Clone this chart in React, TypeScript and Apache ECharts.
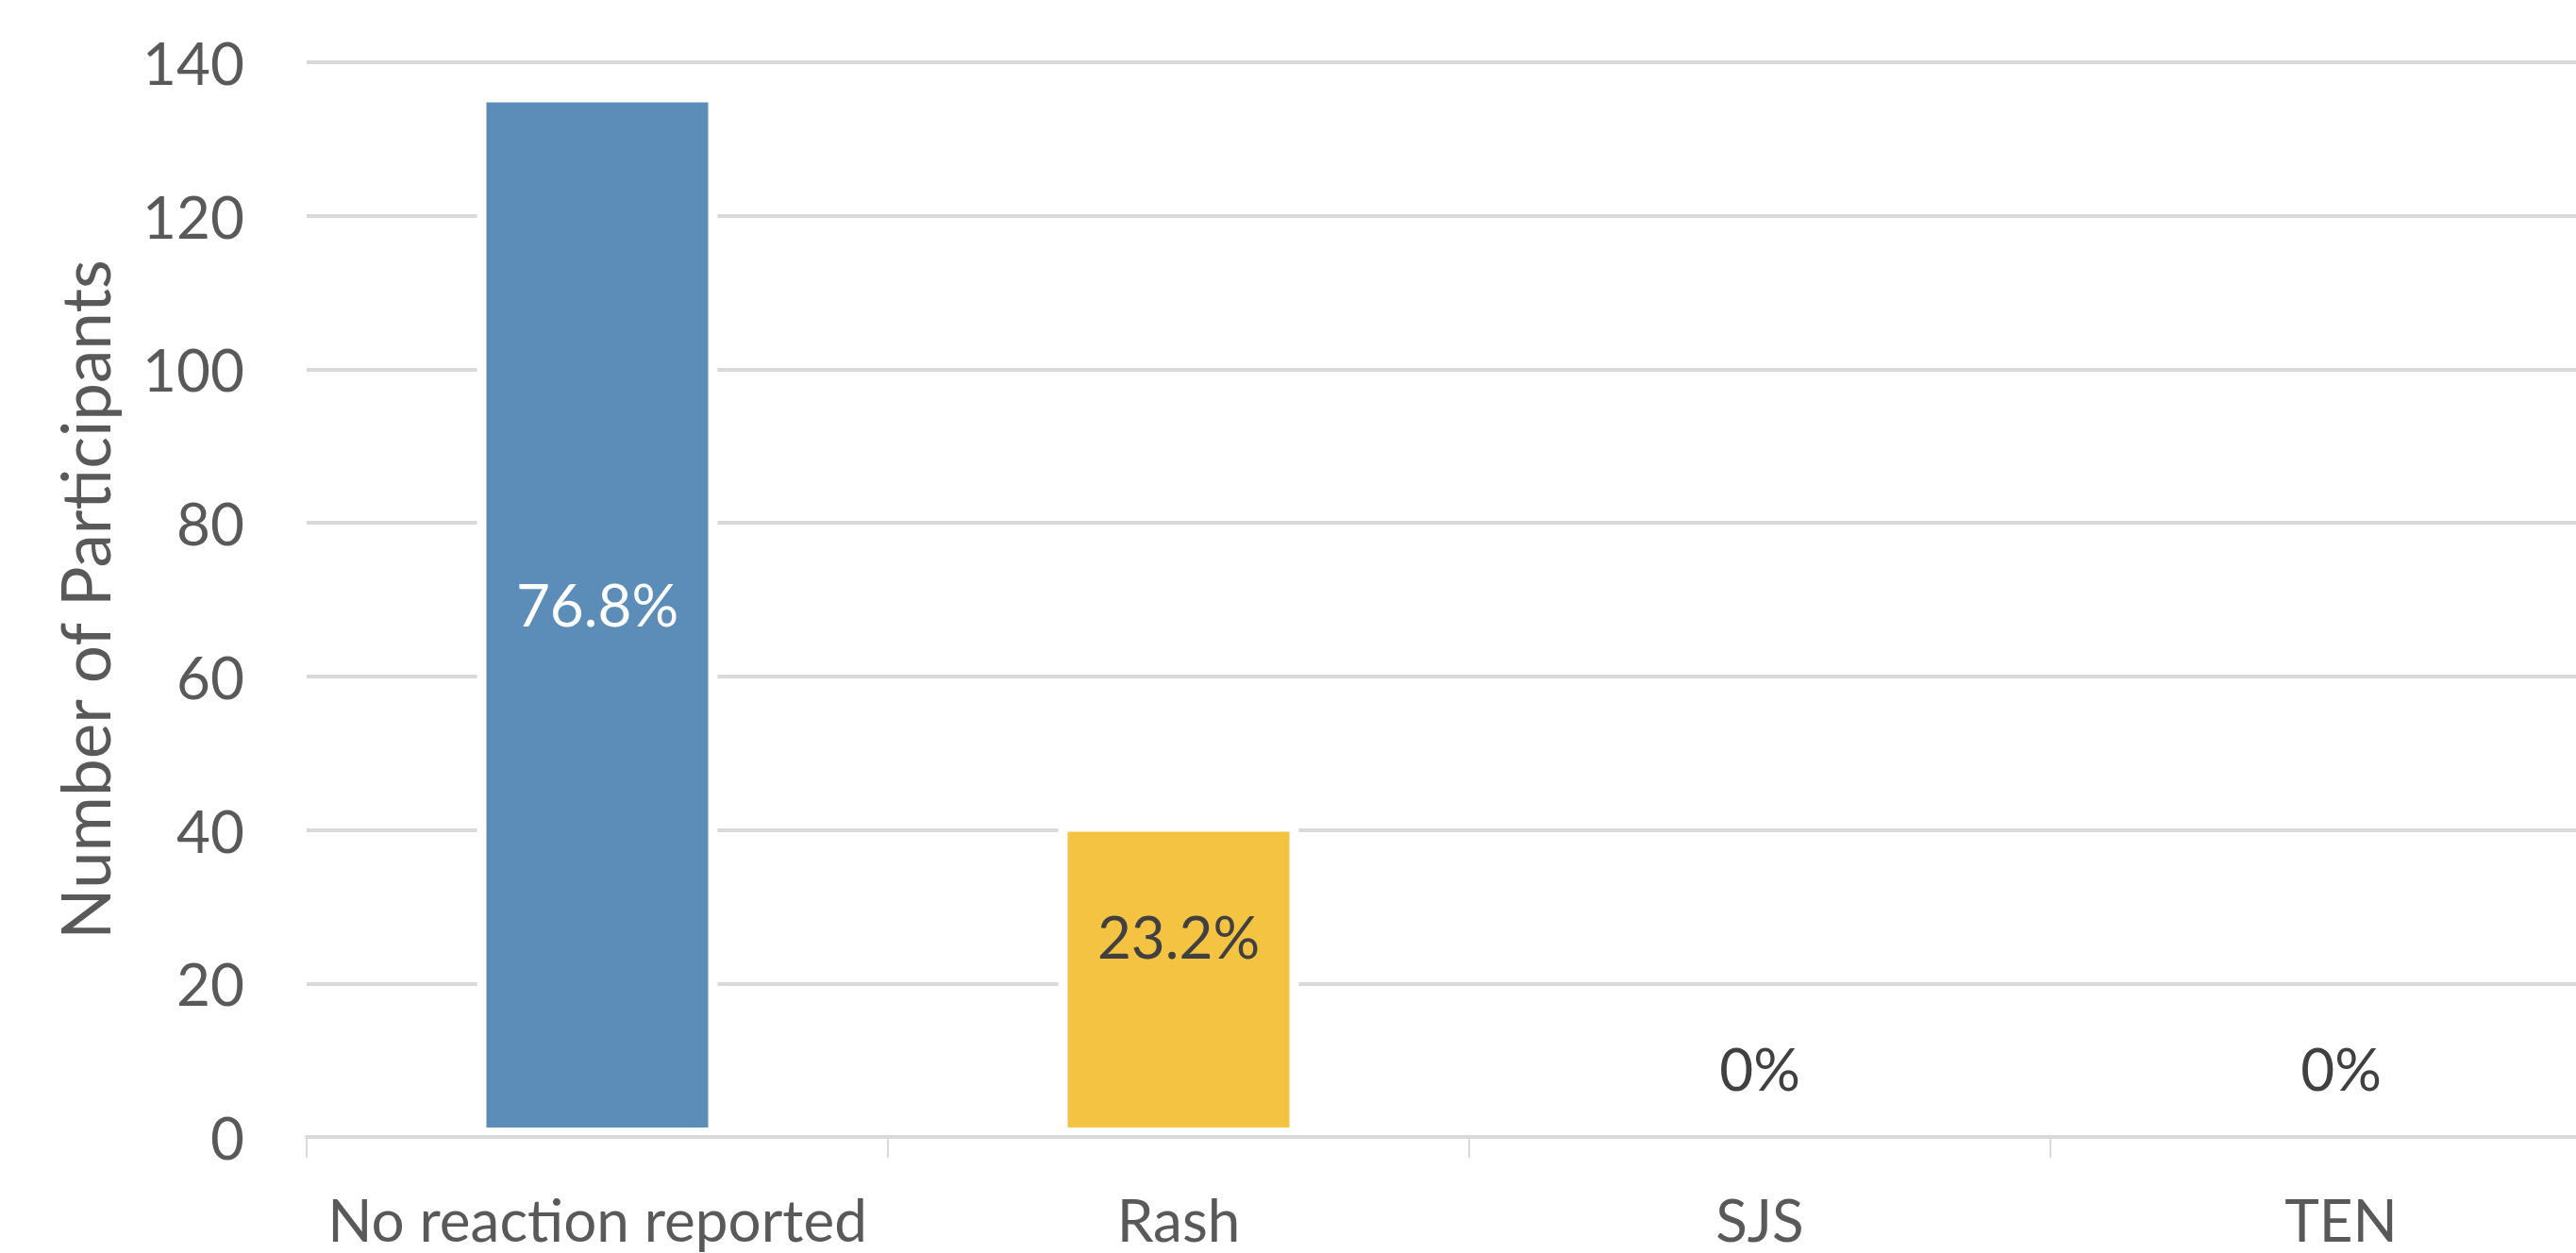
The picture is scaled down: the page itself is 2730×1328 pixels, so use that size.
import React, { useEffect, useRef } from "react";
import * as echarts from "echarts";

const categories = ["No reaction reported", "Rash", "SJS", "TEN"];
const participants = [136, 41, 0, 0];
const percentLabels = ["76.8%", "23.2%", "0%", "0%"];
const barColors = ["#5B8DB8", "#F5C342", "#5B8DB8", "#5B8DB8"];
const labelColors = ["#FFFFFF", "#404040", "#404040", "#404040"];
const labelOffsets = [-12, -46, -73, -73];
const yTicks = { min: 0, max: 140, interval: 20 };

const FONT = "Lato, 'Open Sans', sans-serif";

export default function App() {
  const ref = useRef<HTMLDivElement>(null);
  useEffect(() => {
    if (!ref.current) return;
    const chart = echarts.init(ref.current, undefined, { renderer: "svg" });
    chart.setOption({
      animation: false,
      backgroundColor: "#FFFFFF",
      grid: {
        left: 325,
        width: 2464,
        top: 66,
        bottom: 123,
        containLabel: false,
        outerBoundsMode: "none",
      },
      xAxis: {
        type: "category",
        data: categories,
        z: 5,
        axisLine: { show: true, lineStyle: { color: "#D9D9D9", width: 4 } },
        axisTick: { show: true, interval: 0, length: 22, lineStyle: { color: "#D9D9D9", width: 2 } },
        axisLabel: {
          interval: 0,
          color: "#595959",
          fontSize: 62,
          fontFamily: FONT,
          margin: 56,
        },
        splitLine: { show: false },
      },
      yAxis: {
        type: "value",
        min: yTicks.min,
        max: yTicks.max,
        interval: yTicks.interval,
        name: "Number of Participants",
        nameLocation: "middle",
        nameGap: 200,
        nameMoveOverlap: false,
        nameTextStyle: { color: "#595959", fontSize: 71, fontFamily: FONT },
        axisLine: { show: false },
        axisTick: { show: false },
        axisLabel: { color: "#595959", fontSize: 62, fontFamily: FONT, margin: 66 },
        splitLine: { show: true, lineStyle: { color: "#D9D9D9", width: 4 } },
      },
      series: [
        {
          type: "bar",
          barWidth: 255,
          data: participants.map((v, i) => ({
            value: v,
            itemStyle: { color: barColors[i], borderColor: "#FFFFFF", borderWidth: 10 },
            label: {
              show: true,
              position: "inside",
              offset: [0, labelOffsets[i]],
              formatter: percentLabels[i],
              color: labelColors[i],
              fontSize: 62,
              fontFamily: FONT,
            },
          })),
        },
      ],
    });
    return () => chart.dispose();
  }, []);
  return (
    <div
      ref={ref}
      style={{ position: "absolute", left: 0, top: 0, width: 2730, height: 1328 }}
    />
  );
}
